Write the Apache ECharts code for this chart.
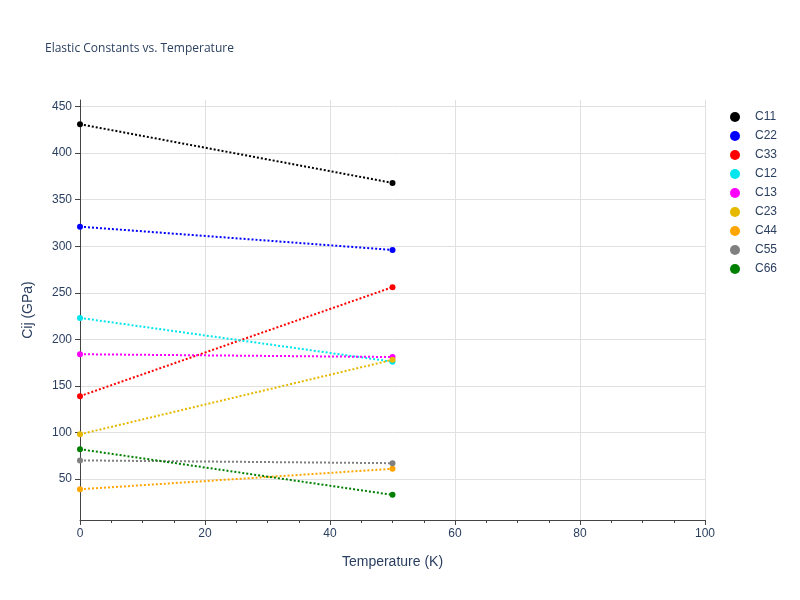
<!DOCTYPE html>
<html><head><meta charset="utf-8">
<script src="https://cdn.jsdelivr.net/npm/echarts@6/dist/echarts.min.js"></script>
<style>html,body{margin:0;padding:0;background:#fff}</style>
</head><body>
<div id="c" style="width:800px;height:600px"></div>
<script>
const temps = [0, 50];
const names = ['C11','C22','C33','C12','C13','C23','C44','C55','C66'];
const colors = ['#000000','#0000ff','#ff0000','#00e5ee','#ff00ff','#e6b800','#ffa500','#808080','#008000'];
const C11 = [431, 368];
const C22 = [321, 296];
const C33 = [139, 256];
const C12 = [223, 176];
const C13 = [184, 181];
const C23 = [98, 178];
const C44 = [39, 61];
const C55 = [70, 67];
const C66 = [82, 33];
const values = [C11,C22,C33,C12,C13,C23,C44,C55,C66];
const series = names.map((n,i)=>({
  name:n, type:'line', data: temps.map((t,j)=>[t, values[i][j]]),
  symbol:'circle', symbolSize:6, color:colors[i],
  lineStyle:{type:'dotted', width:2, color:colors[i]}, itemStyle:{color:colors[i]}
}));
const chart = echarts.init(document.getElementById('c'));
chart.setOption({
  animation:false,
  title:{text:'Elastic Constants vs. Temperature', left:40, top:38, textStyle:{fontSize:12, fontWeight:'normal', color:'#2a3f5f', fontFamily:'Open Sans, sans-serif'}},
  legend:{orient:'vertical', right:18, top:106, itemGap:7, itemWidth:30, itemHeight:10,
    textStyle:{color:'#2a3f5f', fontSize:12}, icon:'circle', data:names},
  grid:{left:80, right:95, top:100, bottom:80},
  xAxis:{type:'value', min:0, max:100, interval:20, name:'Temperature (K)', nameLocation:'middle', nameGap:35,
    nameTextStyle:{color:'#2a3f5f', fontSize:14},
    axisLine:{onZero:false, lineStyle:{color:'#444'}}, axisTick:{show:true, length:5},
    minorTick:{show:true, splitNumber:4, length:3}, axisLabel:{color:'#2a3f5f'},
    splitLine:{lineStyle:{color:'#e0e0e0'}}},
  yAxis:{type:'value', min:6, max:457, name:'Cij (GPa)', nameLocation:'middle', nameGap:45,
    nameTextStyle:{color:'#2a3f5f', fontSize:14},
    axisLine:{show:true, lineStyle:{color:'#444'}}, axisTick:{show:true, length:5, customValues:[50,100,150,200,250,300,350,400,450]},
    axisLabel:{color:'#2a3f5f', customValues:[50,100,150,200,250,300,350,400,450]},
    minorTick:{show:false},
    splitLine:{lineStyle:{color:'#e0e0e0'}}},
  series
});
</script></body></html>
